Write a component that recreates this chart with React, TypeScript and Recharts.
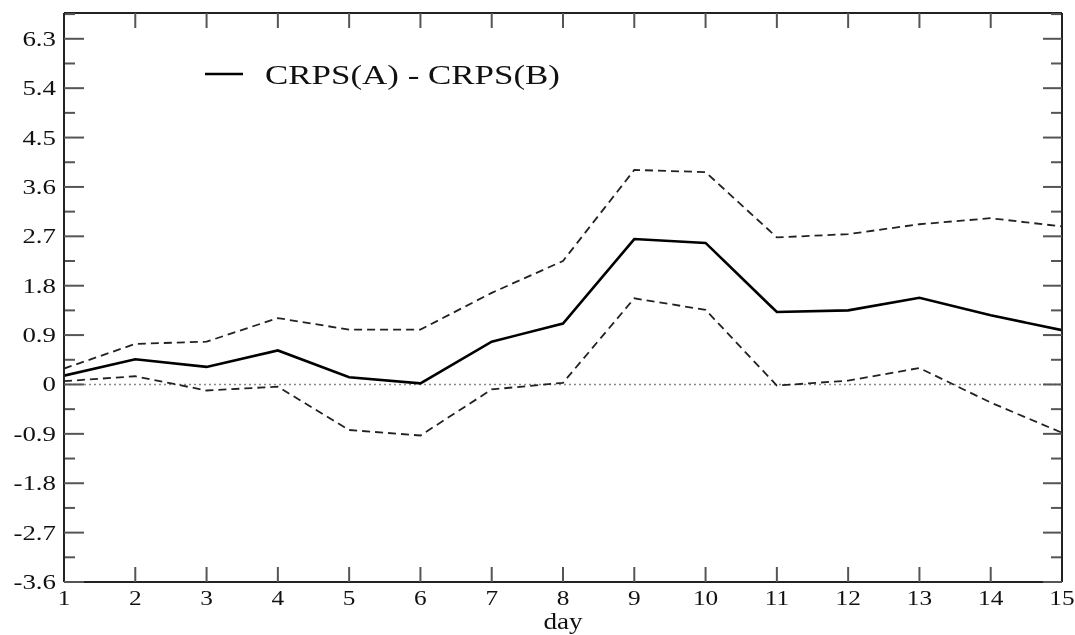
import React from 'react';
import { LineChart, Line, XAxis, YAxis, ReferenceLine } from 'recharts';

const days = [1, 2, 3, 4, 5, 6, 7, 8, 9, 10, 11, 12, 13, 14, 15];
const meanDiff = [0.16, 0.46, 0.32, 0.62, 0.13, 0.02, 0.78, 1.11, 2.65, 2.58, 1.32, 1.35, 1.58, 1.26, 0.99];
const upperBound = [0.29, 0.74, 0.78, 1.21, 1.0, 1.0, 1.67, 2.25, 3.91, 3.87, 2.68, 2.74, 2.92, 3.03, 2.88];
const lowerBound = [0.06, 0.15, -0.11, -0.04, -0.83, -0.93, -0.09, 0.03, 1.57, 1.36, -0.02, 0.07, 0.3, -0.33, -0.88];

const yMajorTicks = [-3.6, -2.7, -1.8, -0.9, 0, 0.9, 1.8, 2.7, 3.6, 4.5, 5.4, 6.3];
const yTickLabels = ['-3.6', '-2.7', '-1.8', '-0.9', '0', '0.9', '1.8', '2.7', '3.6', '4.5', '5.4', '6.3'];
const yMinorTicks = [-3.15, -2.25, -1.35, -0.45, 0.45, 1.35, 2.25, 3.15, 4.05, 4.95, 5.85, 6.75];
const xTickLabels = ['1', '2', '3', '4', '5', '6', '7', '8', '9', '10', '11', '12', '13', '14', '15'];
const yDomain: [number, number] = [-3.6, 6.77];
const xDomain: [number, number] = [1, 15];
const legendLabel = 'CRPS(A) - CRPS(B)';
const xLabel = 'day';

const data = days.map((d, i) => ({ day: d, mean: meanDiff[i], upper: upperBound[i], lower: lowerBound[i] }));

const FONT = '"Liberation Serif", "DejaVu Serif", serif';
const TICK_COLOR = '#555';
const FRAME = { stroke: '#222', strokeWidth: 2 };
const TICKLINE = { stroke: TICK_COLOR, strokeWidth: 2 };

const Empty = () => <g />;

const YTick = (props: any) => {
  const { x, y, payload } = props;
  const idx = yMajorTicks.indexOf(payload.value);
  const label = idx >= 0 ? yTickLabels[idx] : String(payload.value);
  return (
    <text
      transform={`translate(${x - 6},${y + 7}) scale(1.28,1)`}
      textAnchor="end"
      fontFamily={FONT}
      fontSize={21}
      fill="#111"
    >
      {label}
    </text>
  );
};

const XTick = (props: any) => {
  const { x, y, payload } = props;
  const idx = days.indexOf(payload.value);
  const label = idx >= 0 ? xTickLabels[idx] : String(payload.value);
  return (
    <text
      transform={`translate(${x},${y + 21}) scale(1.15,1)`}
      textAnchor="middle"
      fontFamily={FONT}
      fontSize={22}
      fill="#111"
    >
      {label}
    </text>
  );
};

const XLabel = (props: any) => {
  const { viewBox } = props;
  const cx = viewBox.x + viewBox.width / 2;
  return (
    <text transform={`translate(${cx},${viewBox.y + 47}) scale(1.18,1)`} textAnchor="middle" fontFamily={FONT} fontSize={23} fill="#111">
      {xLabel}
    </text>
  );
};

export default function App() {
  return (
    <div style={{ position: 'fixed', left: 8, top: 8, width: 1067, height: 627 }}>
      <LineChart width={1067} height={627} data={data} margin={{ top: 5, right: 13, bottom: 0, left: 0 }}>
        <XAxis
          dataKey="day"
          type="number"
          domain={xDomain}
          ticks={days}
          interval={0}
          height={53}
          tickLine={false}
          tickSize={0}
          axisLine={FRAME}
          tick={<XTick />}
          label={<XLabel />}
          allowDataOverflow
        />
        <XAxis
          xAxisId="bmajor"
          dataKey="day"
          type="number"
          domain={xDomain}
          ticks={days}
          interval={0}
          height={1}
          mirror
          tickSize={15}
          tickLine={TICKLINE}
          axisLine={false}
          tick={<Empty />}
          allowDataOverflow
        />
        <XAxis
          xAxisId="top"
          orientation="top"
          dataKey="day"
          type="number"
          domain={xDomain}
          ticks={days}
          interval={0}
          height={1}
          mirror
          tickSize={15}
          tickLine={TICKLINE}
          axisLine={FRAME}
          tick={<Empty />}
          allowDataOverflow
        />
        <YAxis
          type="number"
          domain={yDomain}
          ticks={yMajorTicks}
          interval={0}
          width={56}
          tickLine={false}
          tickSize={0}
          axisLine={FRAME}
          tick={<YTick />}
          allowDataOverflow
        />
        <YAxis
          yAxisId="lmajor"
          type="number"
          domain={yDomain}
          ticks={yMajorTicks}
          interval={0}
          width={1}
          mirror
          tickSize={20}
          tickLine={TICKLINE}
          axisLine={false}
          tick={<Empty />}
          allowDataOverflow
        />
        <YAxis
          yAxisId="lminor"
          type="number"
          domain={yDomain}
          ticks={yMinorTicks}
          interval={0}
          width={1}
          mirror
          tickSize={10}
          tickLine={TICKLINE}
          axisLine={false}
          tick={<Empty />}
          allowDataOverflow
        />
        <YAxis
          yAxisId="rmajor"
          orientation="right"
          type="number"
          domain={yDomain}
          ticks={yMajorTicks}
          interval={0}
          width={1}
          mirror
          tickSize={19}
          tickLine={TICKLINE}
          axisLine={FRAME}
          tick={<Empty />}
          allowDataOverflow
        />
        <YAxis
          yAxisId="rminor"
          orientation="right"
          type="number"
          domain={yDomain}
          ticks={yMinorTicks}
          interval={0}
          width={1}
          mirror
          tickSize={10}
          tickLine={TICKLINE}
          axisLine={false}
          tick={<Empty />}
          allowDataOverflow
        />
        <ReferenceLine y={0} stroke="#888" strokeWidth={1.5} strokeDasharray="2 3" />
        <Line dataKey="upper" stroke="#222" strokeWidth={1.8} strokeDasharray="8 5" dot={false} legendType="none" isAnimationActive={false} />
        <Line dataKey="lower" stroke="#222" strokeWidth={1.8} strokeDasharray="8 5" dot={false} legendType="none" isAnimationActive={false} />
        <Line dataKey="mean" name={legendLabel} stroke="#000" strokeWidth={2.6} dot={false} isAnimationActive={false} />
      </LineChart>
      <svg width={380} height={44} style={{ position: 'absolute', left: 190, top: 46, display: 'block' }}>
        <line x1={7} y1={20} x2={45} y2={20} stroke="#000" strokeWidth={2.5} />
        <text x={67} y={29.5} fontFamily={FONT} fontSize={27} fill="#111" textLength={295} lengthAdjust="spacingAndGlyphs">
          {legendLabel}
        </text>
      </svg>
    </div>
  );
}
